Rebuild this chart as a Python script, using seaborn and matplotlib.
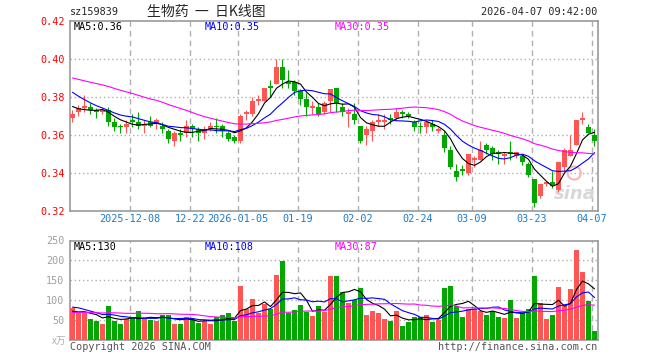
import numpy as np
import pandas as pd
import matplotlib
matplotlib.use("Agg")
import matplotlib.pyplot as plt
import seaborn as sns

# trading days shown (2025-11-24 .. 2026-04-07, exchange holidays removed)
holidays = ['2026-01-01', '2026-01-02', '2026-02-16', '2026-02-17', '2026-02-18',
            '2026-02-19', '2026-02-20', '2026-02-23', '2026-04-06']
dates = pd.bdate_range('2025-11-24', '2026-04-07')
dates = dates[~dates.isin(pd.to_datetime(holidays))]

open_ = [.369, .372, .374, .375, .373, .372, .373, .367, .365, .364,
         .368, .367, .365, .367, .366, .365, .362, .357, .361, .361,
         .365, .363, .361, .363, .365, .365, .361, .359, .357, .371,
         .371, .378, .378, .386, .387, .396, .388, .388, .383, .379,
         .374, .375, .372, .378, .385, .375, .371, .371, .365, .360,
         .362, .367, .367, .369, .369, .372, .371, .367, .365, .364,
         .366, .362, .360, .352, .341, .342, .340, .347, .347, .355,
         .353, .351, .349, .351, .349, .349, .345, .337, .328, .334,
         .335, .331, .343, .349, .355, .368, .364, .360]
high = [.373, .376, .381, .377, .374, .374, .375, .369, .366, .368,
        .371, .372, .368, .370, .369, .367, .363, .362, .363, .368,
        .366, .364, .365, .367, .369, .366, .362, .360, .371, .373,
        .380, .381, .385, .389, .400, .400, .394, .389, .384, .382,
        .378, .377, .378, .384, .385, .377, .374, .377, .365, .365,
        .368, .371, .371, .371, .374, .373, .372, .368, .367, .368,
        .368, .364, .362, .354, .345, .344, .350, .349, .357, .356,
        .354, .352, .351, .357, .351, .350, .346, .337, .334, .336,
        .341, .346, .353, .360, .368, .372, .366, .363]
low = [.367, .370, .372, .371, .369, .371, .365, .362, .361, .361,
       .364, .363, .361, .364, .363, .361, .356, .354, .357, .359,
       .359, .357, .358, .362, .361, .359, .357, .356, .356, .368,
       .370, .376, .378, .380, .387, .385, .385, .381, .376, .370,
       .371, .370, .371, .372, .372, .370, .364, .366, .356, .355,
       .357, .365, .363, .366, .368, .369, .369, .362, .361, .361,
       .362, .361, .351, .342, .336, .339, .339, .343, .347, .350,
       .347, .345, .345, .347, .348, .344, .338, .322, .327, .333,
       .332, .330, .341, .349, .355, .366, .361, .354]
close = [.371, .374, .375, .373, .372, .373, .367, .364, .364, .366,
         .367, .365, .366, .365, .368, .363, .358, .361, .360, .365,
         .363, .361, .363, .365, .364, .362, .358, .357, .370, .372,
         .378, .379, .385, .385, .396, .389, .387, .383, .379, .375,
         .375, .371, .377, .384, .377, .372, .372, .368, .357, .363,
         .367, .368, .368, .368, .372, .371, .370, .364, .364, .367,
         .364, .363, .353, .343, .338, .341, .350, .348, .352, .352,
         .350, .350, .350, .350, .351, .346, .339, .324, .334, .335,
         .333, .346, .352, .352, .368, .369, .361, .357]
volume = [81, 69, 69, 52, 47, 40, 85, 47, 40, 52,
          57, 72, 54, 50, 47, 64, 64, 40, 40, 57,
          54, 43, 48, 40, 58, 62, 67, 47, 135, 79,
          104, 69, 91, 77, 164, 198, 68, 75, 87, 71,
          60, 85, 71, 160, 160, 121, 94, 100, 131, 64,
          72, 67, 54, 47, 72, 35, 45, 57, 57, 62,
          45, 50, 131, 135, 86, 57, 77, 77, 72, 64,
          74, 57, 55, 100, 55, 67, 77, 160, 92, 52,
          64, 132, 85, 128, 225, 170, 97, 22]

# closes / volumes before the window, only needed for the moving averages
pre_close = [.396, .398, .395, .393, .394, .392, .395, .393, .391, .393,
             .394, .396, .392, .390, .393, .395, .392, .391, .394, .398,
             .395, .393, .390, .387, .385, .380, .377, .375, .372]
pre_vol = [58, 65, 72, 55, 60, 68, 50, 62, 70, 58,
           64, 55, 60, 75, 66, 52, 60, 68, 62, 65,
           85, 110, 95, 88, 85, 78, 66, 72, 65]

tick_dates = ['2025-12-08', '2025-12-22', '2026-01-05', '2026-01-19', '2026-02-02',
              '2026-02-24', '2026-03-09', '2026-03-23', '2026-04-07']

df = pd.DataFrame({'open': open_, 'high': high, 'low': low, 'close': close,
                   'volume': volume}, index=dates)
n = len(df)
cs = pd.Series(pre_close + close)
vs = pd.Series(pre_vol + volume)
for w in (5, 10, 30):
    df['ma%d' % w] = cs.rolling(w).mean().values[-n:]
    df['vma%d' % w] = vs.rolling(w).mean().values[-n:]

sns.set_style('white')
plt.rcParams['font.family'] = ['DejaVu Sans Mono', 'Noto Sans CJK SC']

RED = '#ff5555'
GREEN = '#00a800'
GRID = '#b0b0b0'
W = 0.83
LW = 0.8

fig = plt.figure(figsize=(6.6, 3.6), dpi=100)
ax1 = fig.add_axes([70/660, 1-211/360, 528/660, 190/360])
ax2 = fig.add_axes([70/660, 1-340/360, 528/660, 99.5/360])

x = np.arange(n)
up = df['close'] >= df['open']
cols = np.where(up, RED, GREEN)

# candles
body_lo = np.minimum(df['open'], df['close'])
body_h = np.maximum(np.abs(df['close'] - df['open']), 0.0004)
ax1.vlines(x + W/2, df['low'], df['high'], colors=cols, lw=LW, zorder=3)
ax1.bar(x, body_h, bottom=body_lo, width=W, align='edge', color=cols, lw=0, zorder=4)

xc = x + W/2
sns.lineplot(x=xc, y=df['ma5'].values, ax=ax1, color='black', lw=LW, zorder=5)
sns.lineplot(x=xc, y=df['ma10'].values, ax=ax1, color='#0000ff', lw=LW, zorder=5)
sns.lineplot(x=xc, y=df['ma30'].values, ax=ax1, color='#ff00ff', lw=LW, zorder=5)

# volume
ax2.bar(x, df['volume'], width=W, align='edge', color=cols, lw=0, zorder=3)
sns.lineplot(x=xc, y=df['vma5'].values, ax=ax2, color='black', lw=LW, zorder=5)
sns.lineplot(x=xc, y=df['vma10'].values, ax=ax2, color='#0000ff', lw=LW, zorder=5)
sns.lineplot(x=xc, y=df['vma30'].values, ax=ax2, color='#ff00ff', lw=LW, zorder=5)

tick_pos = [dates.get_loc(pd.Timestamp(d)) for d in tick_dates]
tick_lab = []
prev_year = None
for d in tick_dates:
    tick_lab.append(d if d[:4] != prev_year else d[5:])
    prev_year = d[:4]

price_ticks = [0.32, 0.34, 0.36, 0.38, 0.40, 0.42]
vol_ticks = [50, 100, 150, 200, 250]

for ax in (ax1, ax2):
    ax.set_xlim(0, n)
    for p in tick_pos:
        ax.axvline(p, color=GRID, lw=1, ls=(0, (4, 3)), zorder=1)
    for s in ax.spines.values():
        s.set_color('#999999')
        s.set_linewidth(1.2)
    ax.tick_params(length=0)
    ax.set_xlabel('')
    ax.set_ylabel('')

ax1.set_ylim(0.32, 0.42)
for v in price_ticks[1:-1]:
    ax1.axhline(v, color=GRID, lw=1, ls=(0, (1, 2)), zorder=1)
ax1.set_yticks(price_ticks)
ax1.set_yticklabels(['%.2f' % v for v in price_ticks], color='#ff0000', fontsize=7.3)
ax1.set_xticks(tick_pos)
ax1.set_xticklabels(tick_lab, color='#1a7cc8', fontsize=7.3)
ax1.tick_params(axis='y', pad=4)
ax1.tick_params(axis='x', pad=2)

ax2.set_ylim(0, 250)
for v in vol_ticks[:-1]:
    ax2.axhline(v, color=GRID, lw=1, ls=(0, (1, 2)), zorder=1)
ax2.set_yticks(vol_ticks)
ax2.set_yticklabels([str(v) for v in vol_ticks], color='#a0a0a0', fontsize=7.3)
ax2.tick_params(axis='y', pad=4)
ax2.set_xticks(tick_pos)
ax2.set_xticklabels([])

def ftext(px, py, s, **kw):
    fig.text(px/660, 1-py/360, s, va='center', **kw)

ftext(70, 12, 'sz159839', fontsize=7.3)
ftext(206, 12, '生物药  一  日K线图', ha='center', fontsize=10, family=['Noto Sans CJK SC'])
ftext(597, 12, '2026-04-07 09:42:00', ha='right', fontsize=7.3)

ftext(74, 27, 'MA5:0.36', fontsize=7.3, color='black')
ftext(205, 27, 'MA10:0.35', fontsize=7.3, color='#0000ff')
ftext(335, 27, 'MA30:0.35', fontsize=7.3, color='#ff00ff')
ftext(74, 247, 'MA5:130', fontsize=7.3, color='black')
ftext(205, 247, 'MA10:108', fontsize=7.3, color='#0000ff')
ftext(335, 247, 'MA30:87', fontsize=7.3, color='#ff00ff')

ftext(66, 341, 'x万', ha='right', fontsize=7, color='#b0b0b0',
      family=['Noto Sans CJK SC'], style='italic')
ftext(70, 347, 'Copyright 2026 SINA.COM', fontsize=7.3, color='#555555')
ftext(597, 347, 'http://finance.sina.com.cn', ha='right', fontsize=7.3, color='#555555')

# faint sina watermark
ax1.text(0.995, 0.04, 'sina', transform=ax1.transAxes, ha='right', va='bottom',
         fontsize=13, style='italic', fontweight='bold', color='#d8d8d8',
         family=['DejaVu Sans'], zorder=2)
ax1.scatter([0.955], [0.2], s=90, transform=ax1.transAxes, facecolors='none',
            edgecolors='#f4b8b8', linewidths=1.5, zorder=2)

fig.savefig('out.png', dpi=100)
